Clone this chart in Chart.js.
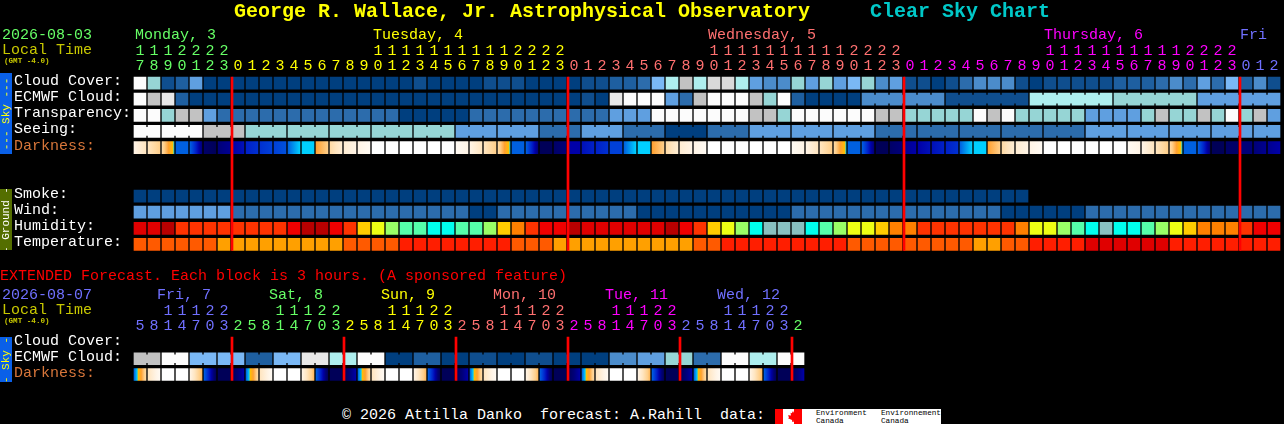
<!DOCTYPE html>
<html><head><meta charset="utf-8">
<script src="https://cdn.jsdelivr.net/npm/chart.js@4"></script>
<style>
html,body{margin:0;padding:0;background:#000;width:1284px;height:424px;overflow:hidden}
canvas{position:absolute;left:0;display:block}
.t{position:absolute;font-family:"Liberation Mono",monospace;font-size:15px;line-height:16px;white-space:pre}
.b{font-weight:bold;font-size:20px;line-height:22px}
.g{font-size:7.6px;line-height:9px;font-weight:bold}
.side{position:absolute;left:0;width:12px;display:flex;align-items:center;justify-content:center;overflow:hidden}
.side span{display:block;transform:rotate(-90deg);font-family:"Liberation Mono",monospace;font-size:11px;line-height:12px;white-space:pre}
#logo{position:absolute;left:775px;top:409px;width:166px;height:15px;background:#fff;overflow:hidden}
#logo i{position:absolute;top:0;height:15px;background:#f00}
#leaf{position:absolute;left:13px;top:2px;width:10px;height:11px;background:#f00;clip-path:polygon(50% 0,62% 20%,75% 15%,70% 42%,100% 38%,90% 58%,100% 65%,60% 82%,56% 100%,44% 100%,40% 82%,0 65%,10% 58%,0 38%,30% 42%,25% 15%,38% 20%)}
#logo .e{position:absolute;color:#000;font:7.7px/8px "Liberation Mono",monospace;white-space:pre}
</style></head><body>
<canvas id="mainChart" width="1284" height="260" style="top:0"></canvas>
<canvas id="extChart" width="808" height="110" style="top:280px"></canvas>
<script>
// ---------- categories ----------
const mainHours = [17,18,19,20,21,22,23,
 0,1,2,3,4,5,6,7,8,9,10,11,12,13,14,15,16,17,18,19,20,21,22,23,
 0,1,2,3,4,5,6,7,8,9,10,11,12,13,14,15,16,17,18,19,20,21,22,23,
 0,1,2,3,4,5,6,7,8,9,10,11,12,13,14,15,16,17,18,19,20,21,22,23,
 0,1,2];
const extHours = [5,8,11,14,17,20,23,
 2,5,8,11,14,17,20,23, 2,5,8,11,14,17,20,23, 2,5,8,11,14,17,20,23,
 2,5,8,11,14,17,20,23, 2,5,8,11,14,17,20,23, 2];
const mainRowLabels = ["Cloud Cover:","ECMWF Cloud:","Transparency:","Seeing:","Darkness:","","","Smoke:","Wind:","Humidity:","Temperature:"];
const extRowLabels = ["Cloud Cover:","ECMWF Cloud:","Darkness:"];
const mainDayCounts = [7,24,24,24,3];
const extDayCounts = [7,8,8,8,8,8,1];
const mainDayColors = ["#66ff66","#ffff00","#ff7070","#ff00ff","#7070ff"];
const extDayColors = ["#7070ff","#66ff66","#ffff00","#ff7070","#ff00ff","#7070ff","#66ff66"];
const mainMidnights = [7,31,55,79];
const extMidnights = [7,15,23,31,39,47];

// ---------- series values (levels into the colour tables) ----------
const cloudCover = [12,7,1,2,5,0,0,
 0,0,0,0,0,0,0,0,0,0,0,0,0,1,
 0,0,0,0,1,1,1,0,0,0,0,
 1,1,2,2,3,6,8,9,8,10,10,8,5,4,4,7,5,7,5,6,
 7,4,5,1,1,0,1,3,4,4,4,1,0,1,1,1,1,1,2,2,2,3,4,3,5,3,6,2,4,1];
const ecmwfCloud = [12,9,11,2,0,0,0,
 0,0,0,0,0,0,0,0,0,0,0,0,0,0,
 0,0,0,0,0,0,0,0,0,0,0,
 1,0,11,12,12,12,5,3,9,12,12,12,9,7,12,2,0,0,0,0,
 4,4,4,4,4,4,1,1,1,1,1,1,8,8,8,8,8,8,7,7,7,7,7,7,5,5,5,5,5,5];
const transparency = [12,12,7,9,9,5,3,
 3,3,3,3,3,3,3,3,3,3,3,3,0,0,
 0,0,0,3,3,3,3,3,3,3,3,
 3,3,5,5,5,12,12,12,12,12,12,12,9,9,7,12,12,12,12,12,
 12,9,9,7,7,7,7,7,12,9,12,7,7,7,7,7,5,5,5,5,7,9,7,7,9,7,12,7,9,5];
const seeing = [12,12,12,12,12,9,9,
 9,7,7,7,7,7,7,7,7,7,7,7,7,7,
 7,7,5,5,5,5,5,5,3,3,3,
 5,5,5,3,3,3,0,0,0,3,3,3,5,5,5,5,5,5,5,5,
 5,3,3,3,3,3,3,3,3,3,3,3,3,3,3,3,5,5,5,5,5,5,5,5,5,5,5,5,5,5];
const darknessStart = [1,2,2.5,7,7,11.5,11,
 10,9,8.5,8,7,6,4,2.5,1.5,1,0,0,0,0,0,0,0.5,1,2,2.5,7,7,12,11.5,
 10,9.5,9,8,7,6,4,2.5,1.5,1,0,0,0,0,0,0,0.5,1,2,2.5,7,7,12,11.5,
 10.5,10,9.5,9,7,6,4,2.5,1.5,1,0,0,0,0,0,0,0.5,1,2,2.5,7,7,12,11.5,
 11,11,10.5];
const darknessEnd = [2,3,6,7,11,12,10.5,
 9.5,8.5,8,7.5,6,6,3,1.5,1,0.5,0,0,0,0,0,0,1,2,3,6,7,11,12,11,
 10,9,8.5,8,6,6,3,1.5,1,0.5,0,0,0,0,0,0,1,2,3,6,7,11,12,11,
 10,9.5,9,8.5,6,6,3,1.5,1,0.5,0,0,0,0,0,0,1,2,3,6,7,11,12,11.5,
 11,10.5,10];
const smoke = [0,0,0,0,0,0,0,
 0,0,0,0,0,0,0,0,0,0,0,0,0,0,0,0,0,0,0,0,0,0,0,0,
 0,0,0,0,0,0,0,0,0,0,0,0,0,0,0,0,0,0,0,0,0,0,0,0,
 0,0,0,0,0,0,0,0,0];
const wind = [5,5,5,5,5,5,5,
 3,3,3,3,3,3,3,3,3,3,3,3,3,3,3,3,3,0,0,3,3,3,3,3,
 3,3,3,3,3,0,0,0,0,0,0,0,0,0,0,0,3,3,3,3,3,3,3,3,
 3,3,3,3,3,3,3,0,0,0,0,0,0,3,3,3,3,3,3,3,3,3,3,3,3,3,3,3,3];
const humidity = [1,1,0,3,3,3,3,
 3,3,3,3,2,0,0,2,3,5,6,7,8,8,9,9,8,8,7,5,4,3,2,2,
 0,1,1,1,1,1,1,0,2,3,5,6,7,9,10,10,10,9,8,7,6,
 6,5,4,4,3,3,3,3,3,3,3,4,6,6,7,8,9,10,9,9,8,7,6,5,4,4,4,3,2,2];
const temperature = [2,2,2,2,2,2,3,
 3,3,3,3,3,3,3,3,2,2,2,2,1,1,1,1,1,1,1,1,2,2,2,3,
 3,3,3,3,3,3,3,3,3,2,2,1,1,1,1,1,1,1,1,1,2,
 2,2,2,2,2,2,2,2,3,3,2,2,1,1,1,1,0,0,0,0,0,0,1,1,1,1,1,1,1,1];

const extCloud6h = [9,12,6,6,2,6,11,8,12,0,2,0,1,0,1,0,0,4,5,7,3,12,8,12];
const extDarkStart = [7,2,0,0,1,7,12,12, 7,2,0,0,1,7,12,12, 7,2,0,0,1,7,12,12,
 7,2,0,0,1,7,12,12, 7,2,0,0,1,7,12,12, 7,2,0,0,1,7,12,12];
const extDarkEnd = [2.5,0.5,0,0,3.5,12,12,10, 2.5,0.5,0,0,3.5,12,12,10, 2.5,0.5,0,0,3.5,12,12,10,
 2.5,0.5,0,0,3.5,12,12,10, 2.5,0.5,0,0,3.5,12,12,10, 2.5,0.5,0,0,3.5,12,12,10];

// ---------- colour tables ----------
const skyColors = ["#003f7f","#0f4e8e","#1e5fa0","#2c6cac","#4b8ccb","#5f9fe0","#7ab8f5","#96d5d5","#aeeeee","#c2c2c2","#d9d9d9","#e8e8e8","#fcfcfc"];
const darkColors = ["#ffffff","#fff4e6","#ffe5c0","#ffcf8a","#ffa030","#ffc000","#00d0ff","#0060e0","#0040d8","#0020c8","#0000a8","#000078","#000058"];
const humColors = ["#b80000","#e00000","#f00000","#ff3300","#ff8000","#ffcc00","#eeff14","#99ff66","#55ffaa","#00ffee","#88c0c0"];
const tempColors = ["#e00000","#ff1e00","#ff5a00","#ffa000"];

// ---------- helpers ----------
function hex(c){return [1,3,5].map(i=>parseInt(c.substr(i,2),16));}
function rampAt(v){
  const lo=Math.floor(v),hi=Math.min(lo+1,darkColors.length-1),f=v-lo;
  const a=hex(darkColors[lo]),b=hex(darkColors[hi]);
  return 'rgb('+a.map((x,i)=>Math.round(x+(b[i]-x)*f)).join(',')+')';
}
// the step from orange twilight to cyan is much sharper than the others
function warp(p){return p<=5?p:(p<=6?5+(p-5)*0.25:p-0.75);}
function row(r,half){return [r-half,r+half];}
function levelBars(values,r,colors,label){
  return {label,data:values.map(()=>row(r,6/16)),backgroundColor:values.map(v=>colors[v]),barThickness:12,order:2,xAxisID:'x'};
}
function links(values,r,colors,isLink,label){
  const d=[],c=[];
  for(let i=0;i<=values.length;i++){
    const on=i>0&&i<values.length&&isLink(i);
    d.push(on?row(r,4/16):null); c.push(on?colors[values[i]]:'#000');
  }
  return {label,data:d,backgroundColor:c,barThickness:2,order:2,xAxisID:'xEdge'};
}
function darkBars(starts,ends,r,label){
  return {label,data:starts.map(()=>row(r,6/16)),barThickness:12,order:2,xAxisID:'x',
    backgroundColor(ctx){
      const i=ctx.dataIndex; if(i===undefined) return '#000';
      const a=starts[i],b=ends[i];
      if(a===b) return rampAt(a);
      const px=ctx.chart.scales.x?ctx.chart.scales.x.getPixelForValue(i):NaN;
      if(!isFinite(px)) return rampAt(a);
      const g=ctx.chart.ctx.createLinearGradient(px-6,0,px+6,0);
      const lo=Math.min(a,b),hi=Math.max(a,b),pts=[lo];
      for(let k=Math.ceil(lo);k<=Math.floor(hi);k++) if(k>lo&&k<hi) pts.push(k);
      pts.push(hi);
      const wa=warp(a),wb=warp(b);
      pts.forEach(p=>g.addColorStop((warp(p)-wa)/(wb-wa),rampAt(p)));
      return g;
    }};
}
function redLines(cols,r0,r1){
  return {label:'Midnight',data:cols.map(c=>({x:c,y:[r0,r1]})),backgroundColor:'#ff0000',barThickness:2,order:0,xAxisID:'xRed'};
}
function hourColors(counts,colors){const o=[];counts.forEach((n,i)=>{for(let k=0;k<n;k++)o.push(colors[i]);});return o;}

function build(id,hours,counts,colors,rowLabels,datasets,axisH,tickPad){
  const cols=hours.length, hc=hourColors(counts,colors);
  const labels=hours.map((h,i)=>String(i));
  const edge=[]; for(let i=0;i<=cols;i++) edge.push(String(i));
  const font={family:'"Liberation Mono",monospace',size:15,lineHeight:'15px'};
  return new Chart(document.getElementById(id),{
    type:'bar',
    data:{labels,datasets},
    options:{
      responsive:false,animation:false,devicePixelRatio:1,
      layout:{padding:{left:14,right:3,top:0,bottom:0}},
      plugins:{legend:{display:false},tooltip:{enabled:false},title:{display:false}},
      datasets:{bar:{grouped:false,borderWidth:0,barPercentage:1,categoryPercentage:1}},
      scales:{
        x:{type:'category',position:'top',offset:true,
          afterFit(s){s.height=axisH;},
          grid:{display:false,drawTicks:false},border:{display:false},
          ticks:{autoSkip:false,maxRotation:0,minRotation:0,padding:tickPad,font,color:c=>hc[c.index],
            callback(v,i){const h=hours[i];return h>=10?[String(h)[0],String(h)[1]]:[' ',String(h)];}}},
        xEdge:{type:'category',labels:edge,offset:false,display:false},
        xRed:{type:'linear',offset:false,min:-1/14,max:cols-1/14,display:false},
        y:{type:'linear',reverse:true,min:-0.5,max:rowLabels.length-0.5,position:'left',
          afterFit(s){s.width=119;},
          afterBuildTicks(s){s.ticks=rowLabels.map((_,i)=>({value:i}));},
          grid:{display:false,drawTicks:false},border:{display:false},
          ticks:{autoSkip:false,crossAlign:'far',padding:0,labelOffset:-2,font,includeBounds:false,
            color:c=>rowLabels[c.index]==='Darkness:'?'#d8763a':'#ffffff',
            callback:(v)=>rowLabels[v]||''}}
      }
    }
  });
}

// ---------- main chart ----------
const seeLink = i => i%3!==2;
const ecmLink = i => i>52 && (i-52)%6!==0;
const mainSets = [
  levelBars(cloudCover,0,skyColors,'Cloud Cover'),
  levelBars(ecmwfCloud,1,skyColors,'ECMWF Cloud'),
  links(ecmwfCloud,1,skyColors,ecmLink,'ECMWF links'),
  levelBars(transparency,2,skyColors,'Transparency'),
  levelBars(seeing,3,skyColors,'Seeing'),
  links(seeing,3,skyColors,seeLink,'Seeing links'),
  darkBars(darknessStart,darknessEnd,4,'Darkness'),
  levelBars(smoke,7,skyColors,'Smoke'),
  levelBars(wind,8,skyColors,'Wind'),
  levelBars(humidity,9,humColors,'Humidity'),
  levelBars(temperature,10,tempColors,'Temperature'),
  redLines(mainMidnights,-6/16,10+6/16)
];
const mainChart = build('mainChart',mainHours,mainDayCounts,mainDayColors,mainRowLabels,mainSets,75,1);

// ---------- extended chart ----------
const extCloud = []; extCloud6h.forEach(v=>{extCloud.push(v,v);});
const extSets = [
  levelBars(extCloud,1,skyColors,'ECMWF Cloud'),
  links(extCloud,1,skyColors,i=>i%2===1,'ECMWF links'),
  darkBars(extDarkStart,extDarkEnd,2,'Darkness'),
  redLines(extMidnights,-6/16,2+6/16)
];
const extChart = build('extChart',extHours,extDayCounts,extDayColors,extRowLabels,extSets,55,1);

// ---------- text ----------
function text(s,left,top,color,cls){
  const d=document.createElement('div');d.className='t '+(cls||'');d.textContent=s;
  d.style.left=left+'px';d.style.top=top+'px';d.style.color=color;document.body.appendChild(d);return d;
}
text('George R. Wallace, Jr. Astrophysical Observatory',234,1,'#ffff00','b');
text('Clear Sky Chart',870,1,'#00c8c8','b');
text('2026-08-03',2,28,'#66ff66');
text('Local Time',2,43,'#c8c800');
text('(GMT -4.0)',4,57,'#c8c800','g');
[['Monday, 3',135,'#66ff66'],['Tuesday, 4',373,'#ffff00'],['Wednesday, 5',708,'#ff7070'],['Thursday, 6',1044,'#ff00ff'],['Fri',1240,'#7070ff']]
 .forEach(a=>text(a[0],a[1],28,a[2]));
text('EXTENDED Forecast. Each block is 3 hours. (A sponsored feature)',0,269,'#ff0000');
text('2026-08-07',2,288,'#7070ff');
text('Local Time',2,303,'#c8c800');
text('(GMT -4.0)',4,317,'#c8c800','g');
[['Fri, 7',157,'#7070ff'],['Sat, 8',269,'#66ff66'],['Sun, 9',381,'#ffff00'],['Mon, 10',493,'#ff7070'],['Tue, 11',605,'#ff00ff'],['Wed, 12',717,'#7070ff']]
 .forEach(a=>text(a[0],a[1],288,a[2]));
text('\u00a9 2026 Attilla Danko  forecast: A.Rahill  data:',342,408,'#ffffff');

function side(s,top,h,bg,color){
  const d=document.createElement('div');d.className='side';
  d.style.top=top+'px';d.style.height=h+'px';d.style.background=bg;
  const sp=document.createElement('span');sp.textContent=s;sp.style.color=color;d.appendChild(sp);
  document.body.appendChild(d);
}
side('--- Sky ---',73,81,'#0a60e8','#ffff00');
side('- Ground -',189,61,'#546e00','#ffffff');
side('- Sky -',337,45,'#0a60e8','#ffff00');

const logo=document.createElement('div');logo.id='logo';
logo.innerHTML='<i style="left:0;width:8px"></i><i style="left:19px;width:8px"></i><div id="leaf"></div>'+
 '<div class="e" style="left:41px;top:0">Environment\nCanada</div><div class="e" style="left:106px;top:0">Environnement\nCanada</div>';
document.body.appendChild(logo);
</script>
</body></html>
